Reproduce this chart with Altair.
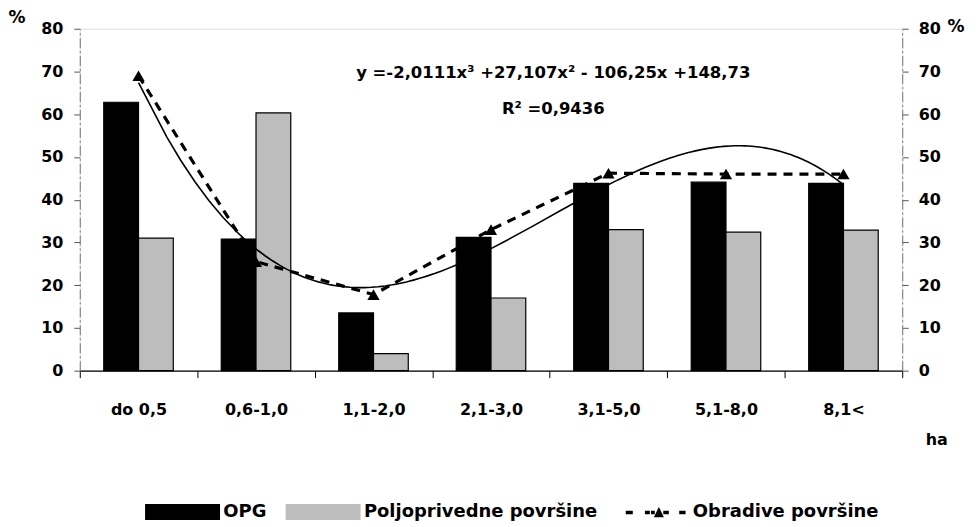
import altair as alt
import pandas as pd

categories = ["do 0,5", "0,6-1,0", "1,1-2,0", "2,1-3,0", "3,1-5,0", "5,1-8,0", "8,1<"]
category_index = [1, 2, 3, 4, 5, 6, 7]
opg = [62.8, 30.8, 13.5, 31.2, 43.8, 44.1, 43.8]
poljoprivredne = [31.0, 60.3, 4.0, 17.0, 33.0, 32.4, 32.9]
obradive = [69.0, 25.5, 17.8, 33.0, 46.2, 46.0, 46.0]
series_names = ["OPG", "Poljoprivedne površine", "Obradive površine"]
y_ticks = [0, 10, 20, 30, 40, 50, 60, 70, 80]
annotation_text = ["y =-2,0111x³ +27,107x² - 106,25x +148,73", "R² =0,9436"]
annotation_x = [4.53, 4.53]
annotation_y = [69.7, 61.3]

FONT = "DejaVu Sans"

bar_df = pd.DataFrame(
    [{"category": c, "series": series_names[0], "value": v} for c, v in zip(categories, opg)]
    + [{"category": c, "series": series_names[1], "value": v} for c, v in zip(categories, poljoprivredne)]
)
line_df = pd.DataFrame({"category": categories, "idx": category_index, "value": obradive,
                        "series": series_names[2]})
ann_df = pd.DataFrame({"x": annotation_x, "y": annotation_y, "text": annotation_text})
legend_df = pd.DataFrame({"series": series_names})

x_band = alt.Scale(domain=categories, paddingInner=0, paddingOuter=0)
y_scale = alt.Scale(domain=[0, 80], nice=False)
x_num = alt.Scale(domain=[0.5, 7.5], nice=False, zero=False)

rect_path = "M-1,-0.5H3.7V0.5H-1Z"
dash_path = ("M-0.3,-0.11H0.14V0.11H-0.3Z M0.9,-0.11H1.21V0.11H0.9Z "
             "M1.28,-0.11H1.52V0.11H1.28Z M1.46,0.3L1.775,-0.35L2.09,0.3Z "
             "M2.05,-0.11H2.4V0.11H2.05Z M3.05,-0.11H3.45V0.11H3.05Z")

legend_common = dict(
    title=None, orient="none", direction="horizontal", legendX=65, legendY=468,
    symbolSize=1024, labelOffset=46, columnPadding=16, labelLimit=400,
    labelFont=FONT, labelFontSize=18, labelFontWeight="bold", labelColor="black",
    symbolStrokeColor="black", symbolStrokeWidth=1, symbolOpacity=1,
)

color_scale = alt.Scale(domain=series_names, range=["black", "#bdbdbd", "black"])
shape_scale = alt.Scale(domain=series_names, range=[rect_path, rect_path, dash_path])

axis_label = dict(labelFont=FONT, labelFontSize=16, labelFontWeight="bold", labelColor="black")

bars = alt.Chart(bar_df).mark_bar(stroke="black", strokeWidth=1.2).encode(
    x=alt.X("category:N", sort=categories, scale=x_band,
            axis=alt.Axis(orient="bottom", tickBand="extent", tickSize=7, tickColor="black",
                          domainColor="black", domainWidth=1.2, labelPadding=24, labelAngle=0,
                          title="ha", titleX=848, titleY=69, titleAlign="left", titleBaseline="middle",
                          titleFont=FONT, titleFontSize=16, titleFontWeight="bold", **axis_label)),
    xOffset=alt.XOffset("series:N", sort=series_names[:2],
                        scale=alt.Scale(domain=series_names[:2], paddingInner=0, paddingOuter=0.69)),
    y=alt.Y("value:Q", scale=y_scale,
            axis=alt.Axis(orient="left", values=y_ticks, grid=False, tickSize=6, tickColor="#555",
                          domainColor="#777", domainDash=[10, 3, 2, 3], labelPadding=11,
                          title="%", titleAngle=0, titleX=-72, titleY=-11, titleAlign="left",
                          titleBaseline="middle", titleFont=FONT, titleFontSize=17,
                          titleFontWeight="bold", **axis_label)),
    color=alt.Color("series:N", scale=color_scale, legend=alt.Legend(**legend_common)),
)

trend = alt.Chart(line_df).transform_regression(
    "idx", "value", method="poly", order=3, extent=[1, 7]
).mark_line(color="black", strokeWidth=1.6).encode(
    x=alt.X("idx:Q", scale=x_num, axis=None),
    y=alt.Y("value:Q", scale=y_scale, axis=None),
)

dashed = alt.Chart(line_df).mark_line(color="black", strokeWidth=3.2, strokeDash=[9, 7]).encode(
    x=alt.X("category:N", sort=categories, scale=x_band, axis=None),
    y=alt.Y("value:Q", scale=y_scale,
            axis=alt.Axis(orient="right", values=y_ticks, grid=False, tickSize=6, tickColor="#555",
                          domainColor="#777", domainDash=[10, 3, 2, 3], labelPadding=10,
                          title="%", titleAngle=0, titleX=45, titleY=-2, titleAlign="left",
                          titleBaseline="middle", titleFont=FONT, titleFontSize=17,
                          titleFontWeight="bold", **axis_label)),
)

triangles = alt.Chart(line_df).mark_point(shape="triangle-up", filled=True, size=150,
                                          color="black", opacity=1).encode(
    x=alt.X("category:N", sort=categories, scale=x_band, axis=None),
    y=alt.Y("value:Q", scale=y_scale, axis=None),
)

texts = alt.Chart(ann_df).mark_text(font=FONT, fontSize=16.5, fontWeight="bold", color="black",
                                    align="center", baseline="middle").encode(
    x=alt.X("x:Q", scale=x_num, axis=None),
    y=alt.Y("y:Q", scale=y_scale, axis=None),
    text="text:N",
)

legend_layer = alt.Chart(legend_df).transform_filter("false").mark_point(filled=True, opacity=1).encode(
    color=alt.Color("series:N", scale=color_scale, legend=alt.Legend(**legend_common)),
    shape=alt.Shape("series:N", scale=shape_scale, legend=alt.Legend(**legend_common)),
)

chart = alt.layer(bars, trend, dashed, triangles, texts, legend_layer).resolve_scale(
    x="independent", y="independent"
).properties(
    width=825, height=343,
    autosize=alt.AutoSizeParams(type="none"),
    padding={"left": 72, "top": 20, "right": 70, "bottom": 150},
).configure_view(stroke=None).configure(background="white")

chart.save("out.html", embed_options={"renderer": "svg", "actions": False})
